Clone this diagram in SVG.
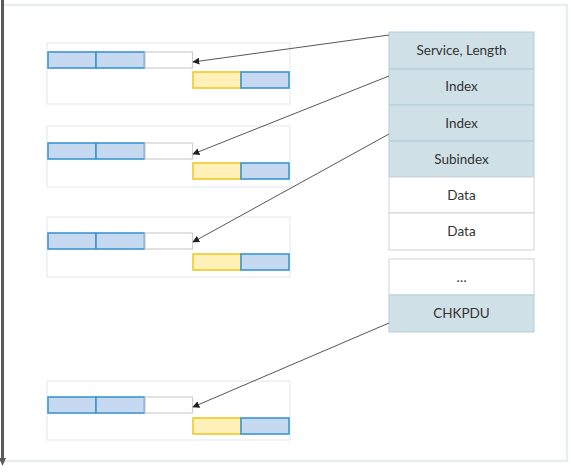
<svg xmlns="http://www.w3.org/2000/svg" width="571" height="473" viewBox="0 0 571 473">
<defs>
<style>
.frame{fill:#fff;stroke:#e9eded;stroke-width:2.5}
.box{fill:#fff;stroke:#e4e6e8;stroke-width:1}
.b{fill:#c6d9f1;stroke:#3a97cf;stroke-width:1.6}
.y{fill:#fff1b8;stroke:#f2c829;stroke-width:1.6}
.w{fill:#fff;stroke:#cfcfcf;stroke-width:1.2}
.t{fill:#d0e0e7;stroke:#b2cfdb;stroke-width:1}
.tw{fill:#fff;stroke:#cfd2d4;stroke-width:1}
text{font-family:"Lato","Open Sans",sans-serif;font-size:13.5px;fill:#333;text-anchor:middle}
.c{stroke:#444;stroke-width:0.9;fill:none;marker-end:url(#ah)}
</style>
<marker id="ah" viewBox="0 0 10 10" refX="9" refY="5" markerWidth="7" markerHeight="7" orient="auto" markerUnits="userSpaceOnUse">
<path d="M0,0 L10,5 L0,10 z" fill="#222"/>
</marker>
</defs>
<rect class="frame" x="3" y="5" width="564" height="456"/>
<g id="axis">
<rect x="1" y="0" width="3" height="459" fill="#5a5a5a"/>
<path d="M-1,458 L6,458 L2.5,466 z" fill="#5a5a5a"/>
</g>
<g id="frame1">
<rect class="box" x="47" y="43" width="243" height="61"/>
<rect class="b" x="48" y="52" width="48" height="16"/>
<rect class="b" x="96" y="52" width="48.5" height="16"/>
<rect class="w" x="145" y="52" width="47.5" height="16"/>
<rect class="y" x="193" y="72" width="48" height="16"/>
<rect class="b" x="241" y="72" width="48" height="16"/>
</g>
<g id="frame2">
<rect class="box" x="47" y="126" width="243" height="61"/>
<rect class="b" x="48" y="143" width="48" height="16"/>
<rect class="b" x="96" y="143" width="48.5" height="16"/>
<rect class="w" x="145" y="143" width="47.5" height="16"/>
<rect class="y" x="193" y="163" width="48" height="16"/>
<rect class="b" x="241" y="163" width="48" height="16"/>
</g>
<g id="frame3">
<rect class="box" x="47" y="217" width="243" height="60"/>
<rect class="b" x="48" y="233" width="48" height="16"/>
<rect class="b" x="96" y="233" width="48.5" height="16"/>
<rect class="w" x="145" y="233" width="47.5" height="16"/>
<rect class="y" x="193" y="254" width="48" height="16"/>
<rect class="b" x="241" y="254" width="48" height="16"/>
</g>
<g id="frame4">
<rect class="box" x="47" y="381" width="243" height="59"/>
<rect class="b" x="48" y="397" width="48" height="16"/>
<rect class="b" x="96" y="397" width="48.5" height="16"/>
<rect class="w" x="145" y="397" width="47.5" height="16"/>
<rect class="y" x="193" y="418" width="48" height="16"/>
<rect class="b" x="241" y="418" width="48" height="16"/>
</g>
<g id="table">
<rect class="t" x="389" y="32" width="145" height="37"/>
<text x="461.5" y="55">Service, Length</text>
<rect class="t" x="389" y="69" width="145" height="36"/>
<text x="461.5" y="91">Index</text>
<rect class="t" x="389" y="105" width="145" height="36"/>
<text x="461.5" y="128">Index</text>
<rect class="t" x="389" y="141" width="145" height="36"/>
<text x="461.5" y="164">Subindex</text>
<rect class="tw" x="389" y="177" width="145" height="36"/>
<text x="461.5" y="200">Data</text>
<rect class="tw" x="389" y="213" width="145" height="37"/>
<text x="461.5" y="236">Data</text>
</g>
<g id="table2">
<rect class="tw" x="389" y="259" width="145" height="36"/>
<text x="461.5" y="282" fill="#666">…</text>
<rect class="t" x="389" y="295" width="145" height="37"/>
<text x="461.5" y="318">CHKPDU</text>
</g>
<g id="connectors">
<path class="c" d="M389,35 L193,62"/>
<path class="c" d="M389,76 L193,154"/>
<path class="c" d="M389,134 L193,242"/>
<path class="c" d="M389,323 L193,407"/>
</g>
</svg>
